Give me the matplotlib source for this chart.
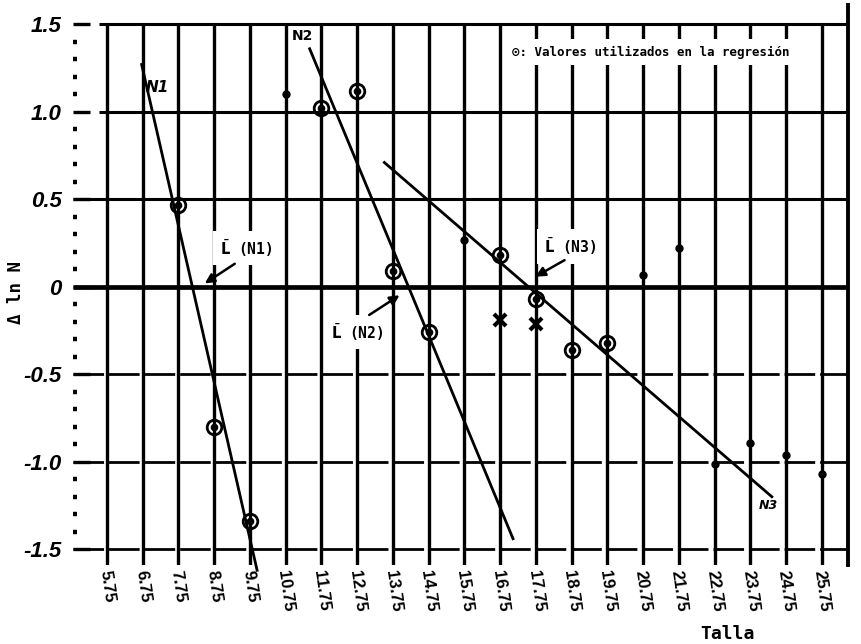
import matplotlib.pyplot as plt

# tallas (centros de clase) y etiquetas del eje x
talla = [5.75, 6.75, 7.75, 8.75, 9.75, 10.75, 11.75, 12.75, 13.75, 14.75, 15.75,
         16.75, 17.75, 18.75, 19.75, 20.75, 21.75, 22.75, 23.75, 24.75, 25.75]
talla_labels = ['5.75', '6.75', '7.75', '8.75', '9.75', '10.75', '11.75', '12.75',
                '13.75', '14.75', '15.75', '16.75', '17.75', '18.75', '19.75',
                '20.75', '21.75', '22.75', '23.75', '24.75', '25.75']

y_major = [1.5, 1.0, 0.5, 0, -0.5, -1.0, -1.5]
y_major_labels = ['1.5', '1.0', '0.5', '0', '-0.5', '-1.0', '-1.5']
y_minor = [1.4, 1.3, 1.2, 1.1, 0.9, 0.8, 0.7, 0.6, 0.4, 0.3, 0.2, 0.1,
           -0.1, -0.2, -0.3, -0.4, -0.6, -0.7, -0.8, -0.9,
           -1.1, -1.2, -1.3, -1.4]

# valores utilizados en la regresion (circulos)
circ_x = [7.75, 8.75, 9.75, 11.75, 12.75, 13.75, 14.75, 16.75, 17.75, 18.75, 19.75]
circ_y = [0.47, -0.80, -1.34, 1.02, 1.12, 0.09, -0.26, 0.18, -0.07, -0.36, -0.32]

# resto de valores (puntos)
dot_x = [10.75, 15.75, 20.75, 21.75, 22.75, 23.75, 24.75, 25.75]
dot_y = [1.10, 0.27, 0.07, 0.22, -1.01, -0.89, -0.96, -1.07]

# valores descartados (cruces)
cross_x = [16.75, 17.75]
cross_y = [-0.19, -0.21]

# rectas de regresion N1, N2, N3 (extremos)
n1_x = [6.72, 9.95]
n1_y = [1.27, -1.62]
n2_x = [11.42, 17.11]
n2_y = [1.36, -1.44]
n3_x = [13.51, 24.35]
n3_y = [0.71, -1.20]

mono = ['DejaVu Sans Mono', 'DejaVu Sans']

fig = plt.figure(figsize=(8.61, 6.44), dpi=100)
ax = fig.add_axes([73/861, 1 - 565/644, 775/861, 560/644])
ax.set_xlim(4.80, 26.48)
ax.set_ylim(-1.59, 1.61)

for s in ['left', 'top', 'bottom']:
    ax.spines[s].set_visible(False)
ax.spines['right'].set_linewidth(2.8)

# cuadricula dibujada a mano
ax.vlines(talla, -1.59, 1.5, color='black', lw=2.4, zorder=1)
ax.hlines([1.5, 1.0], 5.53, 26.48, color='black', lw=2.2, zorder=1)
ax.hlines([0.5], 4.80, 26.48, color='black', lw=2.2, zorder=1)
ax.hlines([0], 4.80, 26.48, color='black', lw=3.4, zorder=1)
ax.hlines([-0.5, -1.0, -1.5], 4.80, 26.48, color='black', lw=2.0,
          linestyles=[(0, (11, 1.8))], zorder=1)

# ejes
ax.set_yticks(y_major, y_major_labels, fontsize=16, fontstyle='italic',
              fontweight='bold', family='Liberation Sans')
ax.set_yticks(y_minor, minor=True)
ax.tick_params(axis='y', which='major', direction='in', length=12, width=2.4, pad=8)
ax.tick_params(axis='y', which='minor', direction='in', length=3, width=3.2)
ax.set_xticks(talla, talla_labels, rotation=-82, ha='center', va='top',
              fontsize=12, fontweight='bold', family='Liberation Sans')
ax.tick_params(axis='x', length=0, pad=3)

ax.set_xlabel('Talla', family=mono, fontweight='bold', fontsize=13)
ax.xaxis.set_label_coords(0.844, -0.107)
ax.set_ylabel('Δ ln N', family=mono, fontweight='bold', fontsize=12.5)
ax.yaxis.set_label_coords(-0.062, 0.486)

# rectas
ax.plot(n1_x, n1_y, color='black', lw=2.0, zorder=3, clip_on=False)
ax.plot(n2_x, n2_y, color='black', lw=2.0, zorder=3, clip_on=False)
ax.plot(n3_x, n3_y, color='black', lw=2.0, zorder=3, clip_on=False)

# puntos
ax.plot(circ_x, circ_y, 'o', ms=10.5, mfc='none', mec='black', mew=2, zorder=4)
ax.plot(circ_x, circ_y, 'o', ms=4.5, color='black', zorder=4)
ax.plot(dot_x, dot_y, 'o', ms=5, color='black', zorder=4)
ax.plot(cross_x, cross_y, 'x', ms=9, mew=3, color='black', zorder=4)

# nombres de las rectas
ax.text(7.15, 1.14, 'N1', fontsize=11, fontstyle='italic', fontweight='bold',
        ha='center', va='center', zorder=5)
ax.text(11.23, 1.43, 'N2', fontsize=10, fontweight='bold',
        ha='center', va='center', zorder=5)
ax.text(24.24, -1.25, 'N3', fontsize=9, fontstyle='italic', fontweight='bold',
        ha='center', va='center', zorder=5)

# tallas medias de primera captura
white = dict(boxstyle='square,pad=0.45', fc='white', ec='none')
ax.text(9.64, 0.22, r'$\bar{\mathbf{L}}$ (N1)', family=mono, fontweight='bold',
        fontsize=10.5, ha='center', va='center', bbox=white, zorder=5)
ax.annotate('', xy=(8.42, 0.01), xytext=(9.39, 0.14),
            arrowprops=dict(arrowstyle='-|>', color='black', lw=1.8,
                            mutation_scale=14), zorder=5)
ax.text(12.74, -0.26, r'$\bar{\mathbf{L}}$ (N2)', family=mono, fontweight='bold',
        fontsize=10.5, ha='center', va='center', bbox=white, zorder=5)
ax.annotate('', xy=(14.0, -0.04), xytext=(13.02, -0.17),
            arrowprops=dict(arrowstyle='-|>', color='black', lw=1.8,
                            mutation_scale=14), zorder=5)
ax.text(18.7, 0.23, r'$\bar{\mathbf{L}}$ (N3)', family=mono, fontweight='bold',
        fontsize=10.5, ha='center', va='center', bbox=white, zorder=5)
ax.annotate('', xy=(17.67, 0.05), xytext=(18.62, 0.16),
            arrowprops=dict(arrowstyle='-|>', color='black', lw=1.8,
                            mutation_scale=14), zorder=5)

# leyenda
ax.text(17.08, 1.34, '⊙: Valores utilizados en la regresión', family=mono,
        fontweight='bold', fontsize=9, ha='left', va='center',
        bbox=dict(boxstyle='square,pad=0.5', fc='white', ec='none'), zorder=5)

fig.savefig('out.png', dpi=100)
